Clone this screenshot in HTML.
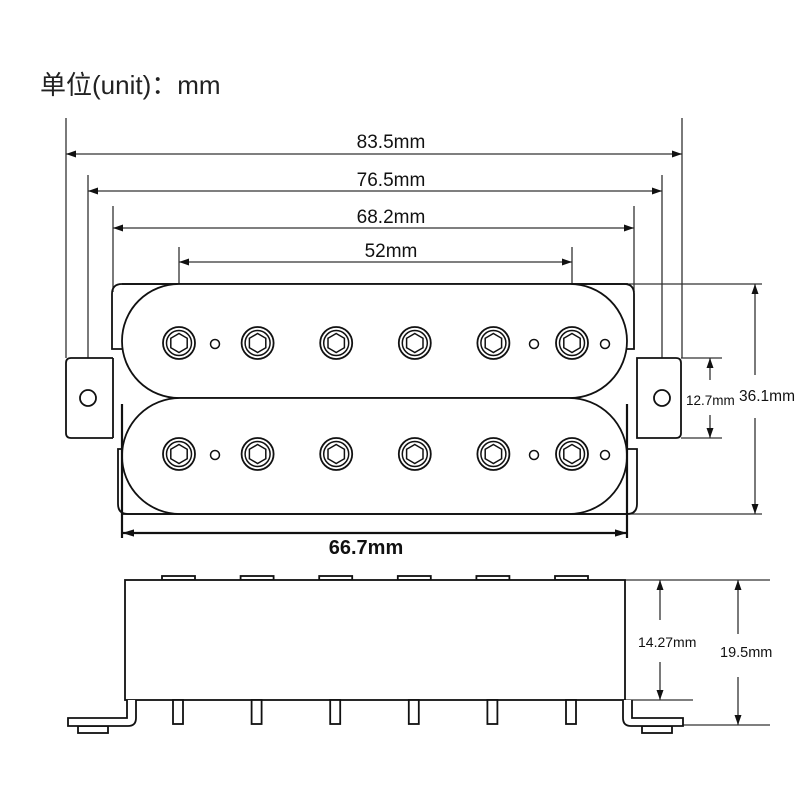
<!DOCTYPE html>
<html><head><meta charset="utf-8"><style>
html,body{margin:0;padding:0;background:#fff;}
svg{display:block;}
text{font-family:"Liberation Sans","Noto Sans CJK SC",sans-serif;fill:#111;}
</style></head><body>
<svg width="800" height="800" viewBox="0 0 800 800" xmlns="http://www.w3.org/2000/svg">
<defs>
<marker id="a" viewBox="0 0 10 10" refX="10" refY="5" markerWidth="10" markerHeight="10" orient="auto-start-reverse" markerUnits="userSpaceOnUse"><path d="M0,1.5 L10,5 L0,8.5 z" fill="#111"/></marker>
<marker id="b" viewBox="0 0 10 10" refX="10" refY="5" markerWidth="12" markerHeight="12" orient="auto-start-reverse" markerUnits="userSpaceOnUse"><path d="M0,2 L10,5 L0,8 z" fill="#111"/></marker>
<g id="scr"><circle r="16" fill="none" stroke="#111" stroke-width="1.8"/><circle r="12.5" fill="none" stroke="#111" stroke-width="1.5"/><polygon points="0,-9.5 8.2,-4.75 8.2,4.75 0,9.5 -8.2,4.75 -8.2,-4.75" fill="none" stroke="#111" stroke-width="1.5"/></g>
</defs>
<text x="40" y="94" font-size="26" style="fill:#222">单位(unit)：mm</text>

<g stroke="#333" stroke-width="1.3" fill="none">
<line x1="66" y1="118" x2="66" y2="358"/>
<line x1="682" y1="118" x2="682" y2="358"/>
<line x1="88" y1="175" x2="88" y2="390"/>
<line x1="662" y1="175" x2="662" y2="390"/>
<line x1="113" y1="206" x2="113" y2="292"/>
<line x1="634" y1="206" x2="634" y2="292"/>
<line x1="179" y1="247" x2="179" y2="334"/>
<line x1="572" y1="247" x2="572" y2="334"/>
<line x1="66" y1="154" x2="682" y2="154" marker-start="url(#a)" marker-end="url(#a)"/>
<line x1="88" y1="191" x2="662" y2="191" marker-start="url(#a)" marker-end="url(#a)"/>
<line x1="113" y1="228" x2="634" y2="228" marker-start="url(#a)" marker-end="url(#a)"/>
<line x1="179" y1="262" x2="572" y2="262" marker-start="url(#a)" marker-end="url(#a)"/>
<line x1="626" y1="284" x2="762" y2="284"/>
<line x1="626" y1="514" x2="762" y2="514"/>
<line x1="755" y1="284" x2="755" y2="375" marker-start="url(#a)"/>
<line x1="755" y1="418" x2="755" y2="514" marker-end="url(#a)"/>
<line x1="681" y1="358" x2="722" y2="358"/>
<line x1="681" y1="438" x2="722" y2="438"/>
<line x1="710" y1="358" x2="710" y2="380" marker-start="url(#a)"/>
<line x1="710" y1="415" x2="710" y2="438" marker-end="url(#a)"/>
<line x1="625" y1="580" x2="770" y2="580"/>
<line x1="625" y1="700" x2="693" y2="700"/>
<line x1="636" y1="725" x2="770" y2="725"/>
<line x1="660" y1="580" x2="660" y2="620" marker-start="url(#a)"/>
<line x1="660" y1="662" x2="660" y2="700" marker-end="url(#a)"/>
<line x1="738" y1="580" x2="738" y2="634" marker-start="url(#a)"/>
<line x1="738" y1="677" x2="738" y2="725" marker-end="url(#a)"/>
</g>
<g font-size="19" text-anchor="middle">
<text x="391" y="148">83.5mm</text>
<text x="391" y="186">76.5mm</text>
<text x="391" y="223">68.2mm</text>
<text x="391" y="257">52mm</text>
</g>
<text x="686" y="405" font-size="13.5">12.7mm</text>
<text x="739" y="401" font-size="15.5">36.1mm</text>
<text x="638" y="647" font-size="14">14.27mm</text>
<text x="720" y="657" font-size="14.5">19.5mm</text>
<text x="366" y="554" font-size="20" font-weight="bold" text-anchor="middle">66.7mm</text>

<g stroke="#111" stroke-width="1.8" fill="#fff">
<path d="M113,358 L71,358 Q66,358 66,363 L66,433 Q66,438 71,438 L113,438"/>
<path d="M637,358 L676,358 Q681,358 681,363 L681,433 Q681,438 676,438 L637,438 Z"/>
<line x1="113" y1="358" x2="113" y2="438"/>
<circle cx="88" cy="398" r="8"/>
<circle cx="662" cy="398" r="8"/>
<path d="M124,349 L112,349 L112,294 Q112,284 122,284 L180,284" fill="none"/>
<path d="M570,284 L624,284 Q634,284 634,294 L634,349 L624,349" fill="none"/>
<path d="M124,449 L118,449 L118,504 Q118,514 128,514 L180,514" fill="none"/>
<path d="M624,449 L637,449 L637,504 Q637,514 627,514 L570,514" fill="none"/>
<line x1="122" y1="284" x2="628" y2="284"/>
<rect x="122" y="284" width="505" height="114" rx="57" ry="57"/>
<rect x="122" y="398" width="505" height="116" rx="58" ry="58"/>
<line x1="122" y1="514" x2="628" y2="514"/>
</g>
<g stroke="#111" stroke-width="1.5" fill="none">
<circle cx="215" cy="344" r="4.5"/><circle cx="534" cy="344" r="4.5"/><circle cx="605" cy="344" r="4.5"/>
<circle cx="215" cy="455" r="4.5"/><circle cx="534" cy="455" r="4.5"/><circle cx="605" cy="455" r="4.5"/>
</g>
<g>
<use href="#scr" x="179" y="343"/><use href="#scr" x="257.6" y="343"/><use href="#scr" x="336.2" y="343"/><use href="#scr" x="414.8" y="343"/><use href="#scr" x="493.4" y="343"/><use href="#scr" x="572" y="343"/>
<use href="#scr" x="179" y="454"/><use href="#scr" x="257.6" y="454"/><use href="#scr" x="336.2" y="454"/><use href="#scr" x="414.8" y="454"/><use href="#scr" x="493.4" y="454"/><use href="#scr" x="572" y="454"/>
</g>
<g stroke="#111" stroke-width="2.2" fill="none">
<line x1="122" y1="404" x2="122" y2="538"/>
<line x1="627" y1="404" x2="627" y2="538"/>
<line x1="122" y1="533" x2="627" y2="533" marker-start="url(#b)" marker-end="url(#b)"/>
</g>

<g stroke="#111" stroke-width="1.8" fill="#fff">
<rect x="162" y="576" width="33" height="4"/><rect x="240.6" y="576" width="33" height="4"/><rect x="319.2" y="576" width="33" height="4"/><rect x="397.8" y="576" width="33" height="4"/><rect x="476.4" y="576" width="33" height="4"/><rect x="555" y="576" width="33" height="4"/>
<rect x="125" y="580" width="500" height="120"/>
<rect x="173" y="700" width="10" height="24"/><rect x="251.6" y="700" width="10" height="24"/><rect x="330.2" y="700" width="10" height="24"/><rect x="408.8" y="700" width="10" height="24"/><rect x="487.4" y="700" width="10" height="24"/><rect x="566" y="700" width="10" height="24"/>
<rect x="78" y="726" width="30" height="7"/>
<path d="M127,700 L127,718 L68,718 L68,726 L128,726 Q136,726 136,718 L136,700"/>
<rect x="642" y="726" width="30" height="7"/>
<path d="M623,700 L623,718 Q623,726 631,726 L683,726 L683,718 L632,718 L632,700"/>
</g>
</svg>
</body></html>
